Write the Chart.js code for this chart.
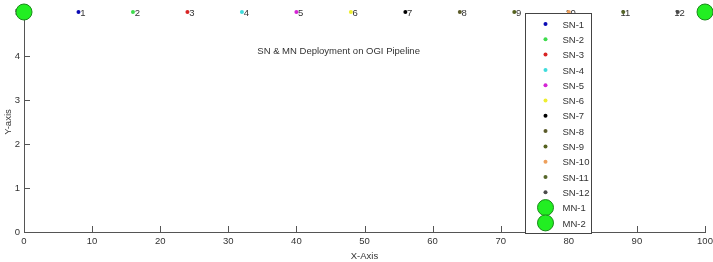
<!DOCTYPE html>
<html>
<head>
<meta charset="utf-8">
<script src="https://cdn.jsdelivr.net/npm/chart.js@4/dist/chart.umd.min.js"></script>
<style>
  html, body { margin: 0; padding: 0; background: #fff; }
  canvas { display: block; }
</style>
</head>
<body>
<canvas id="chart" width="713" height="262"></canvas>
<script>
// Sensor nodes along the pipeline
const snNames = ['SN-1', 'SN-2', 'SN-3', 'SN-4', 'SN-5', 'SN-6', 'SN-7', 'SN-8', 'SN-9', 'SN-10', 'SN-11', 'SN-12'];
const snX = [8, 16, 24, 32, 40, 48, 56, 64, 72, 80, 88, 96];
const snY = [5, 5, 5, 5, 5, 5, 5, 5, 5, 5, 5, 5];
const snColors = ['#0a0ab4', '#3ddc4c', '#d82424', '#3fdcdc', '#d424d4', '#eeee30', '#000000',
                  '#5b5b2a', '#55621f', '#eea05c', '#56662a', '#4a4a4a'];
// Master nodes at both ends
const mnNames = ['MN-1', 'MN-2'];
const mnX = [0, 100];
const mnY = [5, 5];

const xTicks = [0, 10, 20, 30, 40, 50, 60, 70, 80, 90, 100];
const yTicks = [0, 1, 2, 3, 4, 5];

const FONT = '"Liberation Sans", Arial, sans-serif';
const TXT = '#333333';

const datasets = [];
snNames.forEach((name, i) => {
    datasets.push({
        label: name,
        data: [{ x: snX[i], y: snY[i] }],
        backgroundColor: snColors[i],
        borderColor: snColors[i],
        borderWidth: 0,
        pointRadius: 2,
        pointHoverRadius: 2,
        clip: false
    });
});
mnNames.forEach((name, i) => {
    datasets.push({
        label: name,
        data: [{ x: mnX[i], y: mnY[i] }],
        backgroundColor: '#22ee22',
        borderColor: '#1a8a1a',
        borderWidth: 1,
        pointRadius: 8,
        pointHoverRadius: 8,
        clip: false
    });
});

// inward tick marks, node numbers and the title text
const decorPlugin = {
    id: 'decor',
    beforeDatasetsDraw(chart) {
        const ctx = chart.ctx;
        const xs = chart.scales.x, ys = chart.scales.y;
        const area = chart.chartArea;
        ctx.save();
        ctx.strokeStyle = '#555';
        ctx.lineWidth = 1;
        ctx.beginPath();
        xTicks.forEach(v => {
            if (v === 0) return;
            const px = Math.round(xs.getPixelForValue(v)) + 0.5;
            ctx.moveTo(px, area.bottom);
            ctx.lineTo(px, area.bottom - 6);
        });
        yTicks.forEach(v => {
            if (v === 0) return;
            const py = Math.round(ys.getPixelForValue(v)) + 0.5;
            ctx.moveTo(area.left, py);
            ctx.lineTo(area.left + 6, py);
        });
        ctx.stroke();

        ctx.fillStyle = TXT;
        ctx.font = '9.5px ' + FONT;
        ctx.textAlign = 'right';
        ctx.textBaseline = 'middle';
        snNames.forEach((name, i) => {
            const px = xs.getPixelForValue(snX[i]);
            const py = ys.getPixelForValue(snY[i]);
            ctx.fillText(String(i + 1), px + 7, py + 1);
        });

        ctx.textAlign = 'center';
        ctx.fillText('SN & MN Deployment on OGI Pipeline', xs.getPixelForValue(46.2), ys.getPixelForValue(4.1));
        ctx.restore();
    },
    afterDatasetsDraw(chart) {
        const ctx = chart.ctx;
        const area = chart.chartArea;
        const left = area.right - 179.5, top = area.top + 1.5;
        const w = 66, h = 220;
        ctx.save();
        ctx.fillStyle = '#fff';
        ctx.strokeStyle = '#444';
        ctx.lineWidth = 1;
        ctx.fillRect(left, top, w, h);
        ctx.strokeRect(left, top, w, h);
        ctx.font = '9.5px ' + FONT;
        ctx.textBaseline = 'middle';
        ctx.textAlign = 'left';
        const step = 15.3;
        chart.data.datasets.forEach((ds, i) => {
            const cy = top + 10.5 + i * step;
            const cx = left + 20;
            ctx.beginPath();
            ctx.arc(cx, cy, ds.pointRadius, 0, Math.PI * 2);
            ctx.fillStyle = ds.backgroundColor;
            ctx.fill();
            if (ds.borderWidth) {
                ctx.strokeStyle = ds.borderColor;
                ctx.lineWidth = ds.borderWidth;
                ctx.stroke();
            }
            ctx.fillStyle = TXT;
            ctx.fillText(ds.label, left + 37, cy + 1);
        });
        ctx.restore();
    }
};

new Chart(document.getElementById('chart'), {
    type: 'scatter',
    data: { datasets: datasets },
    options: {
        responsive: false,
        animation: false,
        devicePixelRatio: 1,
        layout: { autoPadding: false, padding: { top: 12, right: 8, left: 0, bottom: 0 } },
        plugins: {
            legend: { display: false },
            tooltip: { enabled: false },
            title: { display: false }
        },
        scales: {
            x: {
                type: 'linear',
                min: 0,
                max: 100,
                afterFit(s) { s.height = 30; s.paddingRight = 0; },
                afterBuildTicks(s) { s.ticks = xTicks.map(v => ({ value: v })); },
                grid: { display: false, drawTicks: false },
                border: { display: true, color: '#555', width: 1 },
                ticks: { color: TXT, font: { family: FONT, size: 9.5 }, padding: 4, maxRotation: 0 },
                title: { display: true, text: 'X-Axis', color: TXT, font: { family: FONT, size: 9.5 }, padding: { top: 0, bottom: 0 } }
            },
            y: {
                type: 'linear',
                min: 0,
                max: 5,
                afterFit(s) { s.width = 24; },
                afterBuildTicks(s) { s.ticks = yTicks.map(v => ({ value: v })); },
                grid: { display: false, drawTicks: false },
                border: { display: true, color: '#555', width: 1 },
                ticks: { color: TXT, font: { family: FONT, size: 9.5 }, padding: 4 },
                title: { display: true, text: 'Y-axis', color: TXT, font: { family: FONT, size: 9.5 }, padding: { top: 3, bottom: 0 } }
            }
        }
    },
    plugins: [decorPlugin]
});
</script>
</body>
</html>
